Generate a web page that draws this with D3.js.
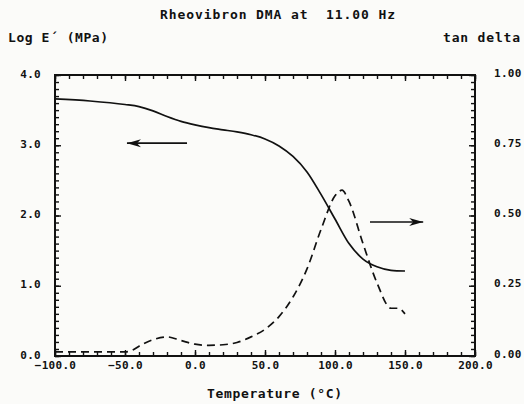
<!DOCTYPE html>
<html lang="en">
<head>
<meta charset="UTF-8" />
<title>Rheovibron DMA at 11.00 Hz</title>
<script src="https://d3js.org/d3.v7.min.js"></script>
<style>
    body { margin: 0; background: #fbfbf9; }
    svg { display: block; }
    text { font-family: "DejaVu Sans Mono", monospace; font-weight: bold; fill: #111; }
    .tick text { font-size: 11px; letter-spacing: 0.3px; }
    .tick line { stroke: #111; stroke-width: 1.4px; }
    .domain { display: none; }
</style>
</head>
<body>
<div id="chart"></div>
<script>
    // storage modulus, log E' (MPa)
    const temps = [-100, -75, -50, -40, -30, -20, -10, 0, 10, 20, 30, 40, 50, 60, 70, 80, 90, 100, 110, 120, 130, 140, 150];
    const logE = [3.66, 3.63, 3.58, 3.55, 3.49, 3.41, 3.34, 3.29, 3.25, 3.22, 3.19, 3.15, 3.09, 2.99, 2.84, 2.62, 2.30, 1.95, 1.60, 1.38, 1.27, 1.22, 1.21];

    // tan delta
    const tanTemps = [-100, -90, -80, -70, -60, -50, -45, -40, -30, -20, -10, 0, 10, 20, 30, 40, 50, 60, 70, 80, 90, 100, 105, 110, 120, 130, 140, 145, 150];
    const tanDelta = [0.015, 0.015, 0.015, 0.015, 0.015, 0.015, 0.02, 0.035, 0.058, 0.068, 0.055, 0.042, 0.038, 0.040, 0.048, 0.068, 0.095, 0.14, 0.21, 0.31, 0.45, 0.57, 0.59, 0.55, 0.40, 0.26, 0.17, 0.17, 0.15];

    const xTicks = [-100, -50, 0, 50, 100, 150, 200];
    const yLeftTicks = [0, 1, 2, 3, 4];
    const yRightTicks = [0, 0.25, 0.5, 0.75, 1];

    const width = 524, height = 404;
    const plot = { left: 55, right: 475, top: 75, bottom: 356 };

    const svg = d3.select("#chart").append("svg")
        .attr("width", width)
        .attr("height", height);

    const x = d3.scaleLinear().domain([-100, 200]).range([plot.left, plot.right]);
    const yL = d3.scaleLinear().domain([0, 4]).range([plot.bottom, plot.top]);
    const yR = d3.scaleLinear().domain([0, 1]).range([plot.bottom, plot.top]);

    // minor ticks
    const minorX = d3.range(-100, 201, 10);
    svg.append("g").attr("transform", `translate(0,${plot.bottom})`)
        .call(d3.axisBottom(x).tickValues(minorX).tickSize(-4).tickFormat(""));
    svg.append("g").attr("transform", `translate(0,${plot.top})`)
        .call(d3.axisTop(x).tickValues(minorX).tickSize(-4).tickFormat(""));
    svg.append("g").attr("transform", `translate(${plot.left},0)`)
        .call(d3.axisLeft(yL).tickValues(d3.range(0, 41).map(d => d / 10)).tickSize(-4).tickFormat(""));
    svg.append("g").attr("transform", `translate(${plot.right},0)`)
        .call(d3.axisRight(yR).tickValues(d3.range(0, 41).map(d => d / 40)).tickSize(-4).tickFormat(""));

    // major ticks + labels
    svg.append("g").attr("transform", `translate(0,${plot.bottom})`)
        .call(d3.axisBottom(x).tickValues(xTicks).tickSize(-6).tickPadding(5).tickFormat(d3.format(".1f")));
    svg.append("g").attr("transform", `translate(0,${plot.top})`)
        .call(d3.axisTop(x).tickValues(xTicks).tickSize(-6).tickFormat(""));
    svg.append("g").attr("transform", `translate(${plot.left},0)`)
        .call(d3.axisLeft(yL).tickValues(yLeftTicks).tickSize(-6).tickPadding(14).tickFormat(d3.format(".1f")))
        .selectAll("text").attr("dy", "0.2em");
    svg.append("g").attr("transform", `translate(${plot.right},0)`)
        .call(d3.axisRight(yR).tickValues(yRightTicks).tickSize(-6).tickPadding(19).tickFormat(d3.format(".2f")))
        .selectAll("text").attr("dy", "0.1em");

    // frame
    svg.append("rect")
        .attr("x", plot.left).attr("y", plot.top)
        .attr("width", plot.right - plot.left).attr("height", plot.bottom - plot.top)
        .attr("fill", "none").attr("stroke", "#111").attr("stroke-width", 2);

    // curves
    const eLine = d3.line()
        .x((d, i) => x(temps[i]))
        .y(d => yL(d))
        .curve(d3.curveMonotoneX);
    svg.append("path").datum(logE)
        .attr("d", eLine)
        .attr("fill", "none").attr("stroke", "#111").attr("stroke-width", 1.7);

    const tLine = d3.line()
        .x((d, i) => x(tanTemps[i]))
        .y(d => yR(d))
        .curve(d3.curveMonotoneX);
    svg.append("path").datum(tanDelta)
        .attr("d", tLine)
        .attr("fill", "none").attr("stroke", "#111").attr("stroke-width", 1.7)
        .attr("stroke-dasharray", "8,5");

    // arrows (in data units)
    function arrow(x1, x2, yPix) {
        const a = x(x1), b = x(x2), dir = Math.sign(b - a);
        svg.append("line").attr("x1", a).attr("x2", b).attr("y1", yPix).attr("y2", yPix)
            .attr("stroke", "#111").attr("stroke-width", 1.6);
        svg.append("path")
            .attr("d", `M${b},${yPix} L${b - dir * 14},${yPix - 4} L${b - dir * 10},${yPix} L${b - dir * 14},${yPix + 4} Z`)
            .attr("fill", "#111");
    }
    arrow(-5.7, -48.6, yL(3.03));
    arrow(125, 163, yR(0.477));

    // titles
    svg.append("text").attr("x", 160).attr("y", 19)
        .attr("font-size", 13).attr("textLength", 235).attr("lengthAdjust", "spacing")
        .attr("xml:space", "preserve")
        .text("Rheovibron DMA at  11.00 Hz");
    svg.append("text").attr("x", 8).attr("y", 42)
        .attr("font-size", 13).attr("textLength", 100).attr("lengthAdjust", "spacing")
        .text("Log E\u00b4 (MPa)");
    svg.append("text").attr("x", 443).attr("y", 42)
        .attr("font-size", 13).attr("textLength", 77).attr("lengthAdjust", "spacing")
        .text("tan delta");
    svg.append("text").attr("x", 207).attr("y", 398)
        .attr("font-size", 13).attr("textLength", 135).attr("lengthAdjust", "spacing")
        .text("Temperature (\u00b0C)");
</script>
</body>
</html>
